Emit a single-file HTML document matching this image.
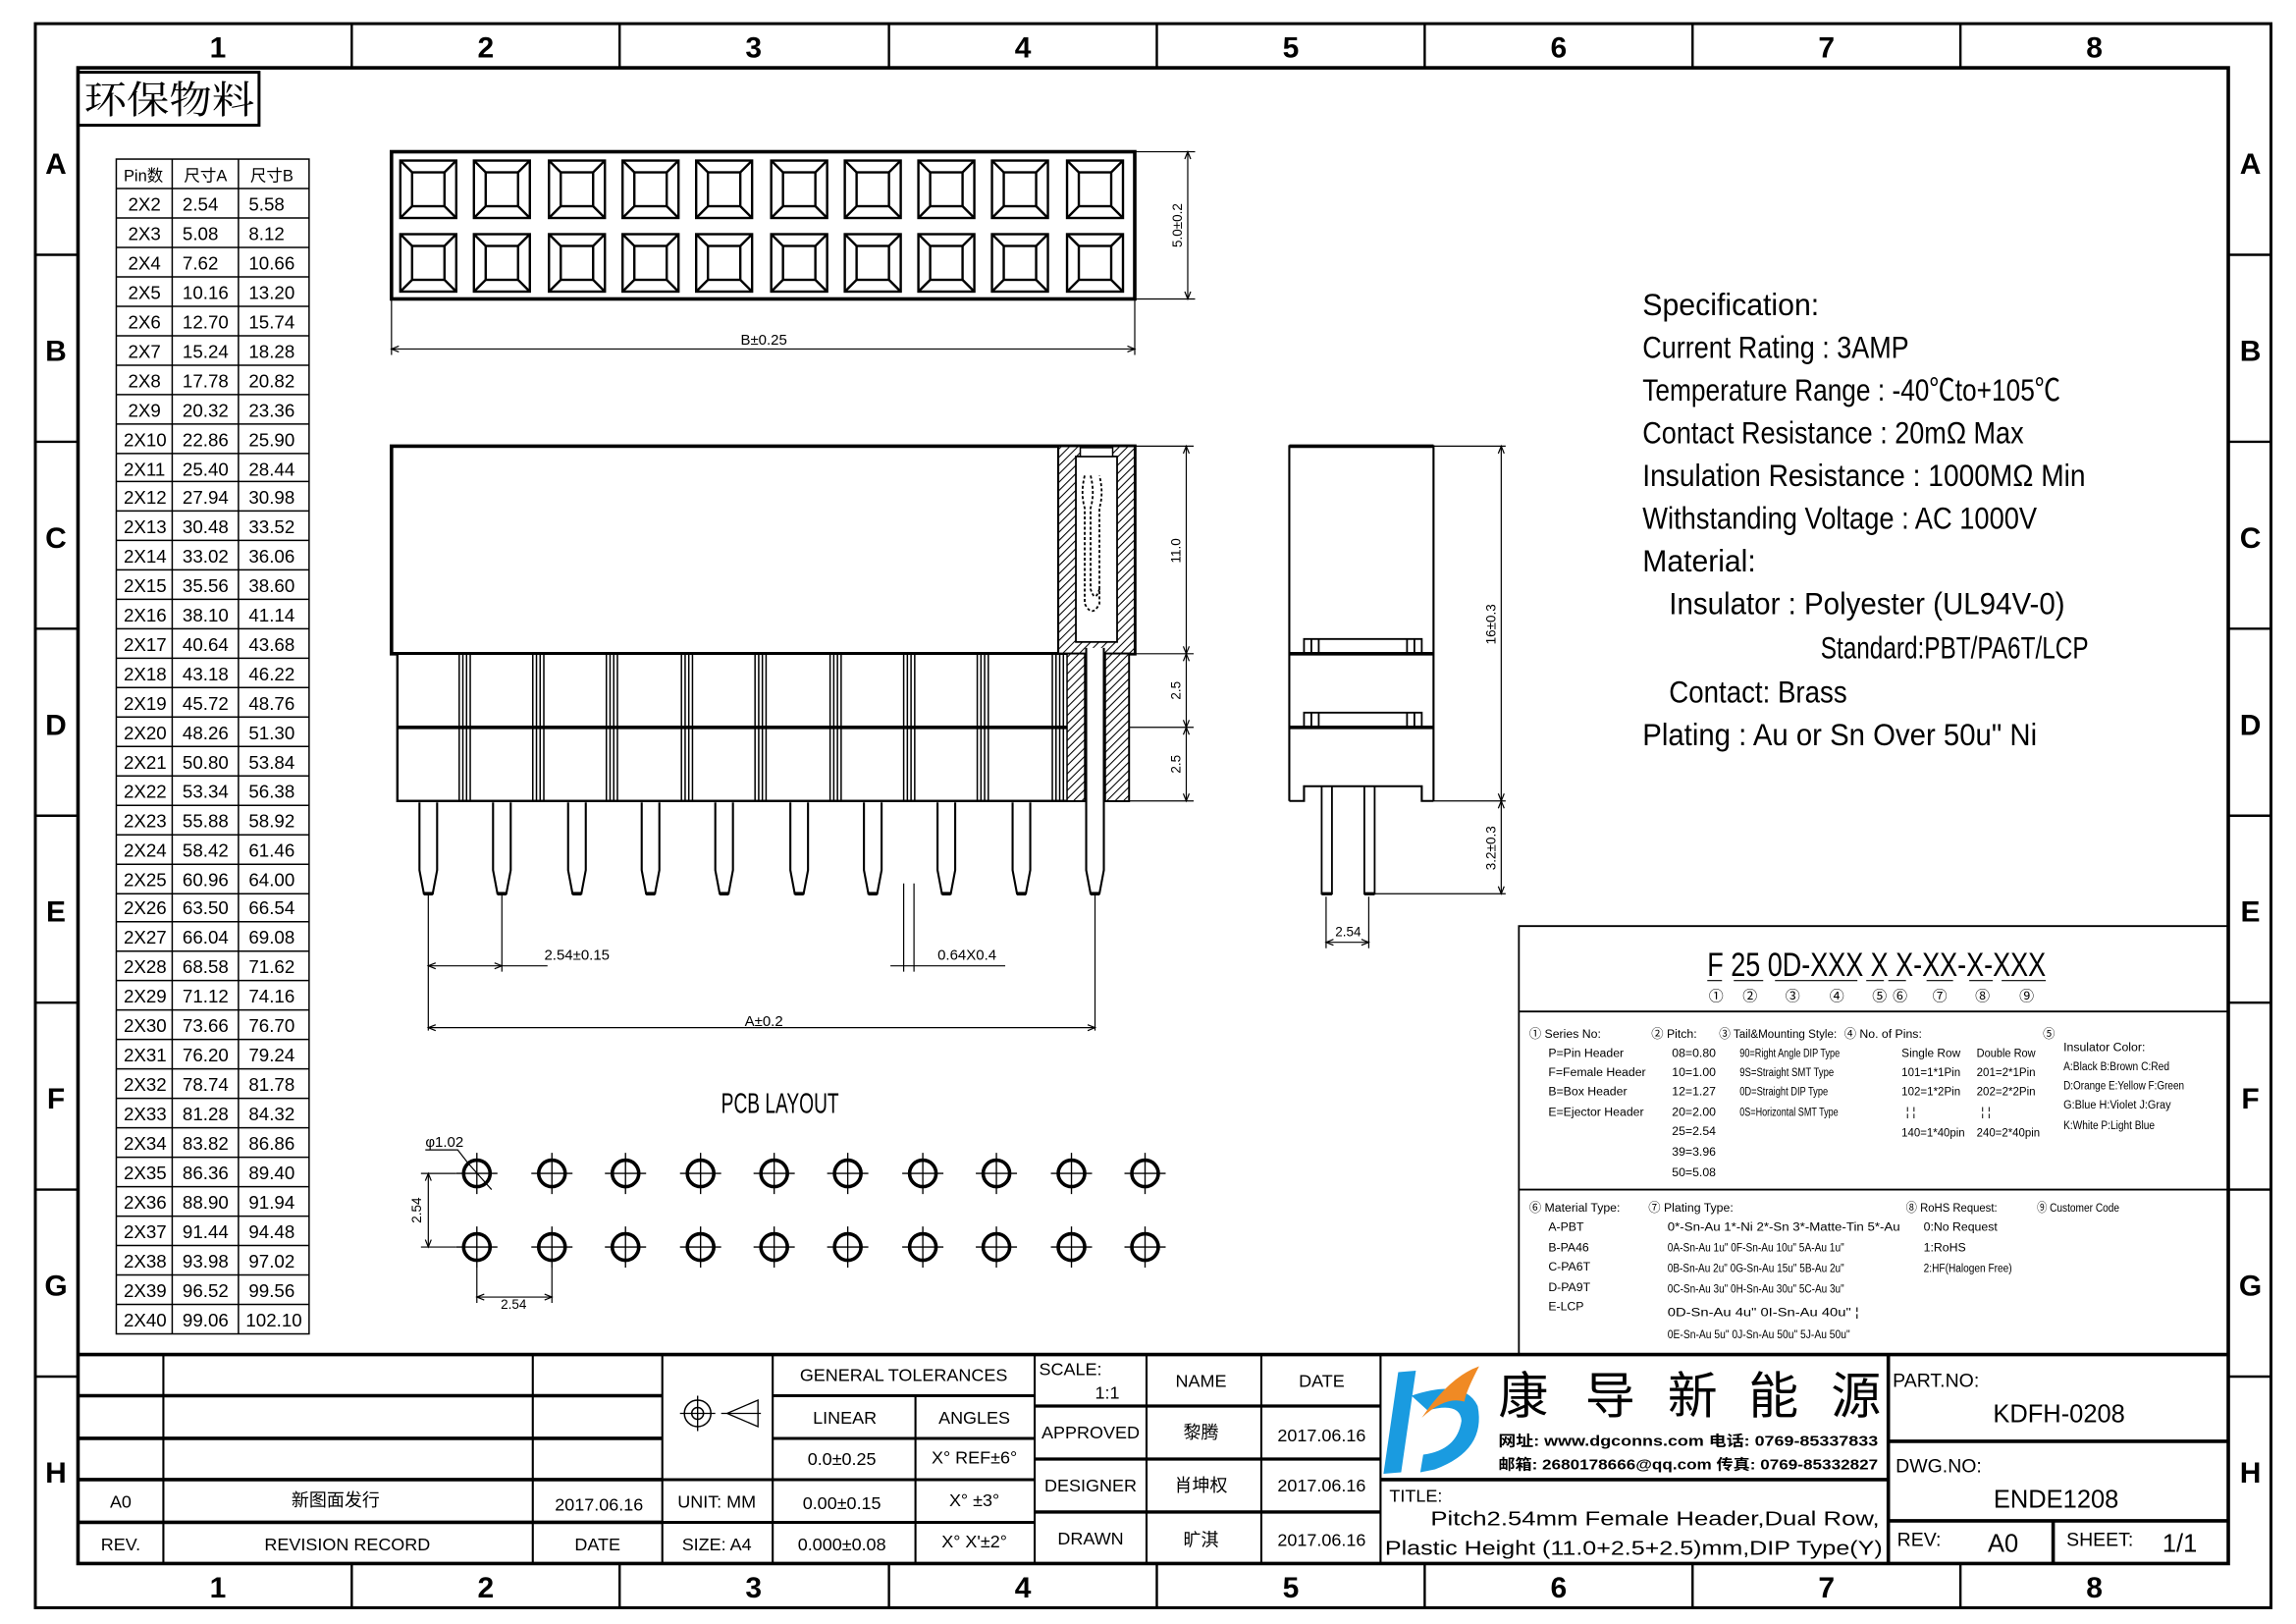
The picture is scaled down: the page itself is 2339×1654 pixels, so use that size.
<!DOCTYPE html>
<html><head><meta charset="utf-8"><style>
html,body{margin:0;padding:0;background:#fff}
svg{display:block}
text{font-family:"Liberation Sans Narrow","Liberation Sans","Noto Sans CJK SC",sans-serif;fill:#000}
.s{font-family:"Liberation Serif","Noto Serif CJK SC",serif}
.b{font-weight:bold}
</style></head><body>
<svg width="2339" height="1654" viewBox="0 0 1560 1103" xmlns="http://www.w3.org/2000/svg">
<defs>
<pattern id="h" width="4" height="4" patternUnits="userSpaceOnUse" patternTransform="rotate(45)"><rect width="4" height="4" fill="#fff"/><line x1="0" y1="0" x2="0" y2="4" stroke="#000" stroke-width="1.4"/></pattern>
<g id="sq" fill="none" stroke="#000" stroke-width="1.6"><rect x="0" y="0" width="38" height="39"/><rect x="8" y="8" width="22" height="23"/><path d="M0 0L8 8M38 0L30 8M0 39L8 31M38 39L30 31"/></g>
<g id="hole" fill="none" stroke="#000"><circle cx="0" cy="0" r="9" stroke-width="2.4"/><path d="M-14 0H14M0 -14V14" stroke-width="0.9"/></g>
<g id="pin" fill="#fff" stroke="#000" stroke-width="1.4"><path d="M-6 0V46L-3 62H3L6 46V0"/><path d="M-3 62H3" stroke-width="2.4"/></g>
<g id="rib" stroke="#000" stroke-width="1"><path d="M-4 0V100M-1.5 0V100M1 0V100M3.5 0V100"/></g>
</defs>
<rect width="1560" height="1103" fill="#fff"/>
<rect x="24" y="16" width="1519" height="1076" fill="none" stroke="#000" stroke-width="2"/>
<rect x="53" y="46" width="1461" height="1016" fill="none" stroke="#000" stroke-width="2.4"/>
<g stroke="#000" stroke-width="1.6">
<path d="M239 16V46M421 16V46M604 16V46M786 16V46M968 16V46M1150 16V46M1332 16V46"/>
<path d="M239 1062V1092M421 1062V1092M604 1062V1092M786 1062V1092M968 1062V1092M1150 1062V1092M1332 1062V1092"/>
<path d="M24 173H53M24 300H53M24 427H53M24 554H53M24 681H53M24 808H53M24 935H53"/>
<path d="M1514 173H1543M1514 300H1543M1514 427H1543M1514 554H1543M1514 681H1543M1514 808H1543M1514 935H1543"/>
</g>
<g font-size="20" text-anchor="middle" class="b">
<text x="148" y="39">1</text><text x="330" y="39">2</text><text x="512" y="39">3</text><text x="695" y="39">4</text><text x="877" y="39">5</text><text x="1059" y="39">6</text><text x="1241" y="39">7</text><text x="1423" y="39">8</text>
<text x="148" y="1085">1</text><text x="330" y="1085">2</text><text x="512" y="1085">3</text><text x="695" y="1085">4</text><text x="877" y="1085">5</text><text x="1059" y="1085">6</text><text x="1241" y="1085">7</text><text x="1423" y="1085">8</text>
<text x="38" y="118">A</text><text x="38" y="245">B</text><text x="38" y="372">C</text><text x="38" y="499">D</text><text x="38" y="626">E</text><text x="38" y="753">F</text><text x="38" y="880">G</text><text x="38" y="1007">H</text>
<text x="1529" y="118">A</text><text x="1529" y="245">B</text><text x="1529" y="372">C</text><text x="1529" y="499">D</text><text x="1529" y="626">E</text><text x="1529" y="753">F</text><text x="1529" y="880">G</text><text x="1529" y="1007">H</text>
</g>
<rect x="53" y="49" width="123" height="36" fill="none" stroke="#000" stroke-width="2"/>
<text x="57" y="77" font-size="26" class="s" textLength="116" lengthAdjust="spacingAndGlyphs">环保物料</text>
<g fill="none" stroke="#000" stroke-width="1">
<rect x="79" y="108" width="131" height="798"/>
<path d="M117 108V906M162 108V906"/>
<path d="M79 128H210M79 148H210M79 168H210M79 188H210M79 208H210M79 228H210M79 248H210M79 268H210M79 288H210M79 308H210M79 327H210M79 347H210M79 367H210M79 387H210M79 407H210M79 427H210M79 447H210M79 467H210M79 487H210M79 507H210M79 527H210M79 547H210M79 567H210M79 587H210M79 607H210M79 626H210M79 646H210M79 666H210M79 686H210M79 706H210M79 726H210M79 746H210M79 766H210M79 786H210M79 806H210M79 826H210M79 846H210M79 866H210M79 886H210"/>
</g>
<g font-size="11">
<text x="84" y="123">Pin数</text><text x="125" y="123">尺寸A</text><text x="170" y="123">尺寸B</text>
</g>
<g font-size="12.5">
<text x="87" y="143">2X2</text><text x="124" y="143">2.54</text><text x="169" y="143">5.58</text>
<text x="87" y="163">2X3</text><text x="124" y="163">5.08</text><text x="169" y="163">8.12</text>
<text x="87" y="183">2X4</text><text x="124" y="183">7.62</text><text x="169" y="183">10.66</text>
<text x="87" y="203">2X5</text><text x="124" y="203">10.16</text><text x="169" y="203">13.20</text>
<text x="87" y="223">2X6</text><text x="124" y="223">12.70</text><text x="169" y="223">15.74</text>
<text x="87" y="243">2X7</text><text x="124" y="243">15.24</text><text x="169" y="243">18.28</text>
<text x="87" y="263">2X8</text><text x="124" y="263">17.78</text><text x="169" y="263">20.82</text>
<text x="87" y="283">2X9</text><text x="124" y="283">20.32</text><text x="169" y="283">23.36</text>
<text x="84" y="303">2X10</text><text x="124" y="303">22.86</text><text x="169" y="303">25.90</text>
<text x="84" y="323">2X11</text><text x="124" y="323">25.40</text><text x="169" y="323">28.44</text>
<text x="84" y="342">2X12</text><text x="124" y="342">27.94</text><text x="169" y="342">30.98</text>
<text x="84" y="362">2X13</text><text x="124" y="362">30.48</text><text x="169" y="362">33.52</text>
<text x="84" y="382">2X14</text><text x="124" y="382">33.02</text><text x="169" y="382">36.06</text>
<text x="84" y="402">2X15</text><text x="124" y="402">35.56</text><text x="169" y="402">38.60</text>
<text x="84" y="422">2X16</text><text x="124" y="422">38.10</text><text x="169" y="422">41.14</text>
<text x="84" y="442">2X17</text><text x="124" y="442">40.64</text><text x="169" y="442">43.68</text>
<text x="84" y="462">2X18</text><text x="124" y="462">43.18</text><text x="169" y="462">46.22</text>
<text x="84" y="482">2X19</text><text x="124" y="482">45.72</text><text x="169" y="482">48.76</text>
<text x="84" y="502">2X20</text><text x="124" y="502">48.26</text><text x="169" y="502">51.30</text>
<text x="84" y="522">2X21</text><text x="124" y="522">50.80</text><text x="169" y="522">53.84</text>
<text x="84" y="542">2X22</text><text x="124" y="542">53.34</text><text x="169" y="542">56.38</text>
<text x="84" y="562">2X23</text><text x="124" y="562">55.88</text><text x="169" y="562">58.92</text>
<text x="84" y="582">2X24</text><text x="124" y="582">58.42</text><text x="169" y="582">61.46</text>
<text x="84" y="602">2X25</text><text x="124" y="602">60.96</text><text x="169" y="602">64.00</text>
<text x="84" y="621">2X26</text><text x="124" y="621">63.50</text><text x="169" y="621">66.54</text>
<text x="84" y="641">2X27</text><text x="124" y="641">66.04</text><text x="169" y="641">69.08</text>
<text x="84" y="661">2X28</text><text x="124" y="661">68.58</text><text x="169" y="661">71.62</text>
<text x="84" y="681">2X29</text><text x="124" y="681">71.12</text><text x="169" y="681">74.16</text>
<text x="84" y="701">2X30</text><text x="124" y="701">73.66</text><text x="169" y="701">76.70</text>
<text x="84" y="721">2X31</text><text x="124" y="721">76.20</text><text x="169" y="721">79.24</text>
<text x="84" y="741">2X32</text><text x="124" y="741">78.74</text><text x="169" y="741">81.78</text>
<text x="84" y="761">2X33</text><text x="124" y="761">81.28</text><text x="169" y="761">84.32</text>
<text x="84" y="781">2X34</text><text x="124" y="781">83.82</text><text x="169" y="781">86.86</text>
<text x="84" y="801">2X35</text><text x="124" y="801">86.36</text><text x="169" y="801">89.40</text>
<text x="84" y="821">2X36</text><text x="124" y="821">88.90</text><text x="169" y="821">91.94</text>
<text x="84" y="841">2X37</text><text x="124" y="841">91.44</text><text x="169" y="841">94.48</text>
<text x="84" y="861">2X38</text><text x="124" y="861">93.98</text><text x="169" y="861">97.02</text>
<text x="84" y="881">2X39</text><text x="124" y="881">96.52</text><text x="169" y="881">99.56</text>
<text x="84" y="901">2X40</text><text x="124" y="901">99.06</text><text x="167" y="901">102.10</text>
</g>
<rect x="266" y="103" width="505" height="100" fill="none" stroke="#000" stroke-width="2.4"/>
<g>
<use href="#sq" x="272" y="109"/><use href="#sq" x="322" y="109"/><use href="#sq" x="373" y="109"/><use href="#sq" x="423" y="109"/><use href="#sq" x="473" y="109"/><use href="#sq" x="524" y="109"/><use href="#sq" x="574" y="109"/><use href="#sq" x="624" y="109"/><use href="#sq" x="674" y="109"/><use href="#sq" x="725" y="109"/>
<use href="#sq" x="272" y="159"/><use href="#sq" x="322" y="159"/><use href="#sq" x="373" y="159"/><use href="#sq" x="423" y="159"/><use href="#sq" x="473" y="159"/><use href="#sq" x="524" y="159"/><use href="#sq" x="574" y="159"/><use href="#sq" x="624" y="159"/><use href="#sq" x="674" y="159"/><use href="#sq" x="725" y="159"/>
</g>
<g stroke="#000" stroke-width="0.8" fill="none">
<path d="M771 103H812M771 203H812M807 103V203M266 203V241M771 203V241M266 237H771"/>
<path d="M805 108L807 103L809 108M805 198L807 203L809 198M271 235L266 237L271 239M766 235L771 237L766 239"/>
</g>
<text x="803" y="153" font-size="9" text-anchor="middle" transform="rotate(-90 803 153)">5.0±0.2</text>
<text x="519" y="234" font-size="10" text-anchor="middle">B±0.25</text>
<rect x="266" y="303" width="505" height="141" fill="#fff" stroke="#000" stroke-width="2.4"/>
<rect x="719" y="303" width="52" height="141" fill="url(#h)" stroke="#000" stroke-width="1.4"/>
<rect x="731" y="310" width="28" height="126" fill="#fff" stroke="#000" stroke-width="1.2"/>
<rect x="734" y="304" width="22" height="6" fill="#fff" stroke="#000" stroke-width="1"/>
<path d="M737 323Q734 335 737 345V410Q742 420 747 410V345Q750 335 747 323M741 323Q744 335 741 345V400Q744 410 747 400" fill="none" stroke="#000" stroke-width="1.2" stroke-dasharray="2 1.5"/>
<rect x="270" y="444" width="497" height="100" fill="#fff" stroke="#000" stroke-width="1.6"/>
<path d="M270 494H767" stroke="#000" stroke-width="2.4"/>
<rect x="725" y="444" width="12" height="100" fill="url(#h)" stroke="#000" stroke-width="1"/>
<rect x="751" y="444" width="16" height="100" fill="url(#h)" stroke="#000" stroke-width="1"/>
<g>
<use href="#rib" x="316" y="444"/><use href="#rib" x="366" y="444"/><use href="#rib" x="416" y="444"/><use href="#rib" x="467" y="444"/><use href="#rib" x="517" y="444"/><use href="#rib" x="568" y="444"/><use href="#rib" x="618" y="444"/><use href="#rib" x="668" y="444"/><use href="#rib" x="719" y="444"/>
</g>
<g>
<use href="#pin" x="291" y="545"/><use href="#pin" x="341" y="545"/><use href="#pin" x="392" y="545"/><use href="#pin" x="442" y="545"/><use href="#pin" x="492" y="545"/><use href="#pin" x="543" y="545"/><use href="#pin" x="593" y="545"/><use href="#pin" x="643" y="545"/><use href="#pin" x="694" y="545"/>
</g>
<path d="M738 440V591L741 607H747L750 591V440" fill="#fff" stroke="#000" stroke-width="1.4"/>
<path d="M741 607H747" stroke="#000" stroke-width="2.4"/>
<g stroke="#000" stroke-width="0.8" fill="none">
<path d="M771 303H811M771 444H811M767 494H811M767 544H811M806 303V544"/>
<path d="M804 308L806 303L808 308M804 439L806 444L808 439M804 449L806 444L808 449M804 489L806 494L808 489M804 499L806 494L808 499M804 539L806 544L808 539"/>
<path d="M291 608V700M341 608V660M744 608V700M614 600V660M621 600V660M291 656H372M605 656H683M291 698H744"/>
<path d="M296 654L291 656L296 658M336 654L341 656L336 658M296 696L291 698L296 700M739 696L744 698L739 700"/>
</g>
<g font-size="9" text-anchor="middle">
<text x="802" y="374" transform="rotate(-90 802 374)">11.0</text>
<text x="802" y="469" transform="rotate(-90 802 469)">2.5</text>
<text x="802" y="519" transform="rotate(-90 802 519)">2.5</text>
<text x="392" y="652" font-size="10">2.54±0.15</text>
<text x="657" y="652" font-size="10">0.64X0.4</text>
<text x="519" y="697" font-size="10">A±0.2</text>
</g>
<g fill="none" stroke="#000">
<path d="M876 544V303H974V544" stroke-width="1.4"/>
<path d="M876 303H974" stroke-width="2.4"/>
<path d="M876 444H974M876 494H974" stroke-width="2.4"/>
<path d="M886 444V434H966V444M891 434V444M896 434V444M956 434V444M961 434V444" stroke-width="1.2"/>
<path d="M886 494V484H966V494M891 484V494M896 484V494M956 484V494M961 484V494" stroke-width="1.2"/>
<path d="M876 544H886V534H966V544H974" stroke-width="1.4"/>
<path d="M898 534V607H905V534M927 534V607H934V534" stroke-width="1.2"/>
<path d="M898 607H905M927 607H934" stroke-width="2.2"/>
<g stroke-width="0.8">
<path d="M974 303H1023M974 544H1023M934 607H1023M1020 303V607M901 609V644M930 609V644M901 640H930"/>
<path d="M1018 308L1020 303L1022 308M1018 539L1020 544L1022 539M1018 549L1020 544L1022 549M1018 602L1020 607L1022 602M906 638L901 640L906 642M925 638L930 640L925 642"/>
</g>
</g>
<text x="1016" y="424" font-size="9" text-anchor="middle" transform="rotate(-90 1016 424)">16±0.3</text>
<text x="1016" y="576" font-size="9" text-anchor="middle" transform="rotate(-90 1016 576)">3.2±0.3</text>
<text x="916" y="636" font-size="9" text-anchor="middle">2.54</text>
<g font-size="21">
<text x="1116" y="214" textLength="120" lengthAdjust="spacingAndGlyphs">Specification:</text>
<text x="1116" y="243" textLength="181" lengthAdjust="spacingAndGlyphs">Current Rating : 3AMP</text>
<text x="1116" y="272" textLength="284" lengthAdjust="spacingAndGlyphs">Temperature Range : -40℃to+105℃</text>
<text x="1116" y="301" textLength="259" lengthAdjust="spacingAndGlyphs">Contact Resistance : 20mΩ Max</text>
<text x="1116" y="330" textLength="301" lengthAdjust="spacingAndGlyphs">Insulation Resistance : 1000MΩ Min</text>
<text x="1116" y="359" textLength="268" lengthAdjust="spacingAndGlyphs">Withstanding Voltage : AC 1000V</text>
<text x="1116" y="388" textLength="77" lengthAdjust="spacingAndGlyphs">Material:</text>
<text x="1134" y="417" textLength="269" lengthAdjust="spacingAndGlyphs">Insulator : Polyester (UL94V-0)</text>
<text x="1237" y="447" textLength="182" lengthAdjust="spacingAndGlyphs">Standard:PBT/PA6T/LCP</text>
<text x="1134" y="477" textLength="121" lengthAdjust="spacingAndGlyphs">Contact: Brass</text>
<text x="1116" y="506" textLength="268" lengthAdjust="spacingAndGlyphs">Plating : Au or Sn Over 50u" Ni</text>
</g>
<text x="530" y="756" font-size="19" text-anchor="middle" textLength="80" lengthAdjust="spacingAndGlyphs">PCB LAYOUT</text>
<g>
<use href="#hole" x="324" y="797"/><use href="#hole" x="375" y="797"/><use href="#hole" x="425" y="797"/><use href="#hole" x="476" y="797"/><use href="#hole" x="526" y="797"/><use href="#hole" x="576" y="797"/><use href="#hole" x="627" y="797"/><use href="#hole" x="677" y="797"/><use href="#hole" x="728" y="797"/><use href="#hole" x="778" y="797"/>
<use href="#hole" x="324" y="847"/><use href="#hole" x="375" y="847"/><use href="#hole" x="425" y="847"/><use href="#hole" x="476" y="847"/><use href="#hole" x="526" y="847"/><use href="#hole" x="576" y="847"/><use href="#hole" x="627" y="847"/><use href="#hole" x="677" y="847"/><use href="#hole" x="728" y="847"/><use href="#hole" x="778" y="847"/>
</g>
<g stroke="#000" stroke-width="0.8" fill="none">
<path d="M289 781H311L318 790L334 808M286 797H310M286 847H310M291 797V847M324 861V885M375 861V885M324 881H375"/>
<path d="M289 802L291 797L293 802M289 842L291 847L293 842M329 879L324 881L329 883M370 879L375 881L370 883"/>
</g>
<text x="289" y="779" font-size="10">φ1.02</text>
<text x="286" y="822" font-size="9" text-anchor="middle" transform="rotate(-90 286 822)">2.54</text>
<text x="349" y="889" font-size="9" text-anchor="middle">2.54</text>
<g fill="none" stroke="#000" stroke-width="1.2">
<path d="M1032 920V629H1514M1032 687H1514M1032 808H1514"/>
</g>
<text x="1160" y="663" font-size="23" textLength="230" lengthAdjust="spacingAndGlyphs" xml:space="preserve">F 25 0D-XXX X X-XX-X-XXX</text>
<g stroke="#000" stroke-width="0.8"><path d="M1160 666H1170M1178 666H1198M1206 666H1262M1268 666H1280M1283 666H1295M1309 666H1327M1338 666H1354M1360 666H1390"/></g>
<g font-size="10" text-anchor="middle">
<text x="1166" y="680">①</text><text x="1189" y="680">②</text><text x="1218" y="680">③</text><text x="1248" y="680">④</text><text x="1277" y="680">⑤</text><text x="1291" y="680">⑥</text><text x="1318" y="680">⑦</text><text x="1347" y="680">⑧</text><text x="1377" y="680">⑨</text>
</g>
<g font-size="8.2">
<text x="1039" y="705">① Series No:</text>
<text x="1052" y="718">P=Pin Header</text><text x="1052" y="731">F=Female Header</text><text x="1052" y="744">B=Box Header</text><text x="1052" y="758">E=Ejector Header</text>
<text x="1122" y="705">② Pitch:</text>
<text x="1136" y="718">08=0.80</text><text x="1136" y="731">10=1.00</text><text x="1136" y="744">12=1.27</text><text x="1136" y="758">20=2.00</text><text x="1136" y="771">25=2.54</text><text x="1136" y="785">39=3.96</text><text x="1136" y="799">50=5.08</text>
<text x="1168" y="705" textLength="80" lengthAdjust="spacingAndGlyphs">③ Tail&amp;Mounting Style:</text>
<text x="1182" y="718" textLength="68" lengthAdjust="spacingAndGlyphs">90=Right Angle DIP Type</text><text x="1182" y="731" textLength="64" lengthAdjust="spacingAndGlyphs">9S=Straight SMT Type</text><text x="1182" y="744" textLength="60" lengthAdjust="spacingAndGlyphs">0D=Straight DIP Type</text><text x="1182" y="758" textLength="67" lengthAdjust="spacingAndGlyphs">0S=Horizontal SMT Type</text>
<text x="1253" y="705">④ No. of Pins:</text>
<text x="1292" y="718" textLength="40" lengthAdjust="spacingAndGlyphs">Single Row</text><text x="1343" y="718" textLength="40" lengthAdjust="spacingAndGlyphs">Double Row</text>
<text x="1292" y="731" textLength="40" lengthAdjust="spacingAndGlyphs">101=1*1Pin</text><text x="1343" y="731" textLength="40" lengthAdjust="spacingAndGlyphs">201=2*1Pin</text>
<text x="1292" y="744" textLength="40" lengthAdjust="spacingAndGlyphs">102=1*2Pin</text><text x="1343" y="744" textLength="40" lengthAdjust="spacingAndGlyphs">202=2*2Pin</text>
<text x="1295" y="758">¦  ¦</text><text x="1346" y="758">¦  ¦</text>
<text x="1292" y="772" textLength="43" lengthAdjust="spacingAndGlyphs">140=1*40pin</text><text x="1343" y="772" textLength="43" lengthAdjust="spacingAndGlyphs">240=2*40pin</text>
<text x="1388" y="705">⑤</text>
<text x="1402" y="714">Insulator Color:</text>
<text x="1402" y="727" textLength="72" lengthAdjust="spacingAndGlyphs">A:Black  B:Brown  C:Red</text>
<text x="1402" y="740" textLength="82" lengthAdjust="spacingAndGlyphs">D:Orange E:Yellow F:Green</text>
<text x="1402" y="753" textLength="73" lengthAdjust="spacingAndGlyphs">G:Blue   H:Violet J:Gray</text>
<text x="1402" y="767" textLength="62" lengthAdjust="spacingAndGlyphs">K:White  P:Light Blue</text>
<text x="1039" y="823">⑥ Material Type:</text>
<text x="1052" y="836">A-PBT</text><text x="1052" y="850">B-PA46</text><text x="1052" y="863">C-PA6T</text><text x="1052" y="877">D-PA9T</text><text x="1052" y="890">E-LCP</text>
<text x="1120" y="823">⑦ Plating Type:</text>
<text x="1133" y="836" textLength="158" lengthAdjust="spacingAndGlyphs">0*-Sn-Au 1*-Ni 2*-Sn 3*-Matte-Tin 5*-Au</text>
<text x="1133" y="850" textLength="120" lengthAdjust="spacingAndGlyphs">0A-Sn-Au 1u" 0F-Sn-Au 10u"  5A-Au 1u"</text>
<text x="1133" y="864" textLength="120" lengthAdjust="spacingAndGlyphs">0B-Sn-Au 2u" 0G-Sn-Au 15u"  5B-Au 2u"</text>
<text x="1133" y="878" textLength="120" lengthAdjust="spacingAndGlyphs">0C-Sn-Au 3u" 0H-Sn-Au 30u"  5C-Au 3u"</text>
<text x="1133" y="894" textLength="130" lengthAdjust="spacingAndGlyphs">0D-Sn-Au 4u" 0I-Sn-Au 40u"         ¦</text>
<text x="1133" y="909" textLength="124" lengthAdjust="spacingAndGlyphs">0E-Sn-Au 5u" 0J-Sn-Au 50u"  5J-Au 50u"</text>
<text x="1295" y="823" textLength="62" lengthAdjust="spacingAndGlyphs">⑧ RoHS Request:</text>
<text x="1307" y="836">0:No Request</text><text x="1307" y="850">1:RoHS</text><text x="1307" y="864" textLength="60" lengthAdjust="spacingAndGlyphs">2:HF(Halogen Free)</text>
<text x="1384" y="823" textLength="56" lengthAdjust="spacingAndGlyphs">⑨ Customer Code</text>
</g>
<g fill="none" stroke="#000">
<path d="M53 920H1514" stroke-width="2.4"/>
<path d="M53 948H450M53 977H450M53 1005H450M53 1034H450" stroke-width="2.4"/>
<path d="M111 920V1062M362 920V1062M450 920V1062M525 920V1062M703 920V1062M779 920V1062M857 920V1062M938 920V1062" stroke-width="1.4"/>
<path d="M622 948V1062" stroke-width="1.4"/>
<path d="M525 948H703M525 977H703M450 1005H703M450 1034H703" stroke-width="2"/>
<path d="M703 955H938M703 991H938M703 1027H938" stroke-width="2.2"/>
<path d="M938 1005H1283M1283 920V1062M1283 979H1514M1283 1033H1514M1395 1033V1062" stroke-width="2.4"/>
<circle cx="474" cy="960" r="9" stroke-width="1"/><circle cx="474" cy="960" r="4" stroke-width="1"/>
<path d="M462 960H486M474 948V972M494 960L515 951V969Z M490 960H517" stroke-width="0.9"/>
</g>
<g font-size="12" text-anchor="middle" class="s">
<text x="614" y="938">GENERAL TOLERANCES</text>
<text x="574" y="967">LINEAR</text><text x="662" y="967">ANGLES</text>
<text x="572" y="995">0.0±0.25</text><text x="662" y="994">X° REF±6°</text>
<text x="572" y="1025">0.00±0.15</text><text x="662" y="1023">X° ±3°</text>
<text x="572" y="1053">0.000±0.08</text><text x="662" y="1051">X° X'±2°</text>
<text x="487" y="1024">UNIT: MM</text><text x="487" y="1053">SIZE: A4</text>
<text x="82" y="1024">A0</text><text x="228" y="1023">新图面发行</text><text x="407" y="1026">2017.06.16</text>
<text x="82" y="1053">REV.</text><text x="236" y="1053">REVISION RECORD</text><text x="406" y="1053">DATE</text>
<text x="816" y="942">NAME</text><text x="898" y="942">DATE</text>
<text x="741" y="977">APPROVED</text><text x="816" y="977">黎腾</text><text x="898" y="979">2017.06.16</text>
<text x="741" y="1013">DESIGNER</text><text x="816" y="1013">肖坤权</text><text x="898" y="1013">2017.06.16</text>
<text x="741" y="1049">DRAWN</text><text x="816" y="1050">旷淇</text><text x="898" y="1050">2017.06.16</text>
</g>
<g font-size="12" class="s"><text x="706" y="934">SCALE:</text><text x="744" y="950">1:1</text></g>
<path d="M950 932L962 931L952 1000L940 1001Z" fill="#1a9be0"/>
<path d="M959 948Q995 936 1004 955Q1010 985 975 998L965 1000L967 988Q990 985 993 965Q992 952 970 958Z" fill="#1a9be0"/>
<path d="M966 963Q985 935 1005 928Q996 945 995 952Q982 948 966 963Z" fill="#f08a24"/>
<g font-size="34" class="s"><text x="1018" y="960">康</text><text x="1077" y="960">导</text><text x="1133" y="960">新</text><text x="1188" y="960">能</text><text x="1244" y="960">源</text></g>
<g font-size="10" class="b"><text x="1018" y="982" textLength="258" lengthAdjust="spacingAndGlyphs">网址: www.dgconns.com   电话: 0769-85337833</text><text x="1018" y="998" textLength="258" lengthAdjust="spacingAndGlyphs">邮箱: 2680178666@qq.com 传真: 0769-85332827</text></g>
<g class="s" font-size="12"><text x="944" y="1020">TITLE:</text></g>
<g class="s" font-size="13.5"><text x="972" y="1036" textLength="305" lengthAdjust="spacingAndGlyphs">Pitch2.54mm Female Header,Dual Row,</text><text x="941" y="1056" textLength="338" lengthAdjust="spacingAndGlyphs">Plastic Height (11.0+2.5+2.5)mm,DIP Type(Y)</text></g>
<g class="s"><text x="1286" y="942" font-size="13">PART.NO:</text><text x="1399" y="966" font-size="17" text-anchor="middle">KDFH-0208</text>
<text x="1288" y="1000" font-size="13">DWG.NO:</text><text x="1397" y="1024" font-size="17" text-anchor="middle">ENDE1208</text>
<text x="1289" y="1050" font-size="13">REV:</text><text x="1361" y="1054" font-size="17" text-anchor="middle">A0</text>
<text x="1404" y="1050" font-size="13">SHEET:</text><text x="1481" y="1054" font-size="17" text-anchor="middle">1/1</text></g>
</svg>
</body></html>
